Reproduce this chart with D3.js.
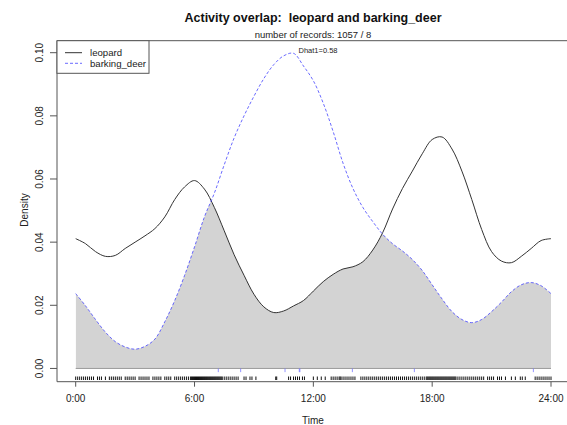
<!DOCTYPE html>
<html>
  <head>
    <meta charset="utf-8">
    <style>
      body { margin: 0; background-color: white; }
      svg { display: block; font-family: "Liberation Sans", Arial, sans-serif; }
    </style>
  </head>
  <body>
      <svg width="567" height="425"></svg>
      <script src="https://d3js.org/d3.v7.min.js"></script>
      <script>
      // density estimates, every half hour
      var hours = [0,0.5,1,1.5,2,2.5,3,3.5,4,4.5,5,5.5,6,6.5,7,7.5,8,8.5,9,9.5,10,10.5,11,11.5,
                   12,12.5,13,13.5,14,14.5,15,15.5,16,16.5,17,17.5,18,18.5,19,19.5,20,20.5,21,21.5,22,22.5,23,23.5,24];
      var leopard = [0.0411,0.0395,0.0370,0.0355,0.0358,0.0380,0.0400,0.0420,0.0443,0.0480,0.0535,0.0575,0.0595,0.0568,0.0510,0.0436,
                     0.0360,0.0295,0.0235,0.0195,0.0177,0.0182,0.0198,0.0215,0.0245,0.0275,0.0298,0.0315,0.0322,0.0338,0.0375,0.0430,
                     0.0505,0.0570,0.0625,0.0680,0.0725,0.0733,0.0695,0.0625,0.0535,0.0440,0.0370,0.0340,0.0335,0.0355,0.0380,0.0405,0.0411];
      var deer = [0.0237,0.0198,0.0155,0.0115,0.0085,0.0068,0.0061,0.0070,0.0093,0.0148,0.0215,0.0295,0.0385,0.0480,0.0555,0.0645,
                  0.0730,0.0800,0.0862,0.0918,0.0962,0.0990,0.0998,0.0958,0.0911,0.0840,0.0750,0.0650,0.0570,0.0510,0.0465,0.0425,
                  0.0395,0.0372,0.0345,0.0310,0.0265,0.0220,0.0180,0.0155,0.0145,0.0155,0.0180,0.0210,0.0243,0.0265,0.0272,0.0262,0.0237];

      // rug: record times (hours)
      var leopardRug = [0.0,0.1,0.2,0.3,0.4,0.5,0.6,0.7,0.8,0.9,1.1,1.2,1.3,1.5,1.7,1.8,1.9,2.0,2.1,2.2,2.3,2.5,2.6,2.7,2.8,2.9,3.0,
        3.2,3.3,3.4,3.5,3.6,3.7,3.9,4.0,4.1,4.2,4.3,4.5,4.6,4.7,4.8,5.0,5.1,5.2,5.3,5.4,5.5,5.6,5.7,5.8,5.85,5.9,5.95,6.0,6.05,
        6.1,6.15,6.2,6.25,6.3,6.35,6.4,6.45,6.5,6.55,6.6,6.65,6.7,6.75,6.8,6.85,6.9,6.95,7.0,7.05,7.1,7.15,7.2,7.25,7.3,7.35,7.4,
        7.5,7.6,7.7,7.8,7.9,8.0,8.1,8.2,8.5,8.6,8.8,8.9,9.1,10.1,10.15,10.75,10.85,11.0,11.1,11.2,11.3,11.45,11.55,12.0,12.2,12.4,
        12.6,12.9,13.0,13.1,13.2,13.3,13.35,13.4,13.5,13.6,13.7,13.8,13.9,14.0,14.1,14.4,14.5,14.6,14.7,14.8,14.9,15.0,15.1,15.2,
        15.3,15.4,15.5,15.6,15.7,15.8,15.9,16.0,16.1,16.2,16.3,16.4,16.5,16.6,16.7,16.8,16.9,17.0,17.1,17.2,17.3,17.4,17.5,17.6,
        17.7,17.75,17.8,17.85,17.9,17.95,18.0,18.05,18.1,18.15,18.2,18.25,18.3,18.35,18.4,18.45,18.5,18.55,18.6,18.65,18.7,18.75,
        18.8,18.85,18.9,18.95,19.0,19.05,19.1,19.15,19.2,19.3,19.4,19.5,19.6,19.7,19.8,19.9,20.0,20.1,20.2,20.3,20.4,20.5,20.6,
        20.8,20.9,21.0,21.1,21.3,21.4,21.5,21.7,22.0,22.2,22.45,22.55,22.7,23.2,23.3,23.4,23.5,23.6,23.7,23.8,23.9,24.0];
      var deerRug = [7.2, 8.33, 10.57, 11.29, 11.32, 13.97, 17.1, 23.11];

      var xTicks = [0, 6, 12, 18, 24];
      var xTickLabels = ["0:00", "6:00", "12:00", "18:00", "24:00"];
      var yTicks = [0, 0.02, 0.04, 0.06, 0.08, 0.10];
      var legendNames = ["leopard", "barking_deer"];

      var svg = d3.select("svg"),
          box = {left: 57, top: 40.7, right: 570, bottom: 381.7};

      var x = d3.scaleLinear().domain([0, 24]).range([75.7, 551]);
      var y = d3.scaleLinear().domain([-0.0042, 0.1038]).range([box.bottom, box.top]);

      var leopardData = hours.map(function(h, i) { return {h: h, v: leopard[i]}; });
      var deerData = hours.map(function(h, i) { return {h: h, v: deer[i]}; });

      var line = d3.line().x(function(d) { return x(d.h); }).y(function(d) { return y(d.v); }).curve(d3.curveCatmullRom);
      var area = d3.area().x(function(d) { return x(d.h); }).y0(y(0)).y1(function(d) { return y(d.v); }).curve(d3.curveCatmullRom);

      // overlap = area under leopard clipped by area under deer
      svg.append("clipPath").attr("id", "deerclip")
        .append("path").attr("d", area(deerData));
      svg.append("path")
          .attr("d", area(leopardData))
          .attr("clip-path", "url(#deerclip)")
          .style("fill", "#d3d3d3");

      svg.append("line")
          .attr("x1", x(0)).attr("x2", x(24))
          .attr("y1", y(0)).attr("y2", y(0))
          .style("stroke", "#999").style("stroke-width", 1);

      svg.append("path").attr("d", line(leopardData))
          .style("fill", "none").style("stroke", "#333").style("stroke-width", 1);
      svg.append("path").attr("d", line(deerData))
          .style("fill", "none").style("stroke", "#4444ff").style("stroke-width", 0.8)
          .style("stroke-dasharray", "3,2");

      // rugs
      svg.selectAll(".rugL").data(leopardRug).enter().append("line")
          .attr("x1", function(d) { return x(d); }).attr("x2", function(d) { return x(d); })
          .attr("y1", 376.5).attr("y2", 380)
          .style("stroke", "#111").style("stroke-width", 1);
      svg.selectAll(".rugD").data(deerRug).enter().append("line")
          .attr("x1", function(d) { return x(d); }).attr("x2", function(d) { return x(d); })
          .attr("y1", y(0)).attr("y2", y(0) + 3.7)
          .style("stroke", "#7777ff").style("stroke-width", 0.8);

      // box
      svg.append("path")
          .attr("d", "M" + box.right + "," + box.top + "H" + box.left + "V" + box.bottom + "H" + box.right)
          .style("fill", "none").style("stroke", "#555").style("stroke-width", 1);

      // x axis
      svg.selectAll(".xt").data(xTicks).enter().append("line")
          .attr("x1", function(d) { return x(d); }).attr("x2", function(d) { return x(d); })
          .attr("y1", box.bottom).attr("y2", box.bottom + 5)
          .style("stroke", "#555");
      svg.selectAll(".xl").data(xTicks).enter().append("text")
          .attr("x", function(d) { return x(d); }).attr("y", 402)
          .attr("text-anchor", "middle").style("font-size", "10px").style("fill", "#222")
          .text(function(d, i) { return xTickLabels[i]; });

      // y axis
      svg.selectAll(".yt").data(yTicks).enter().append("line")
          .attr("x1", box.left - 7).attr("x2", box.left)
          .attr("y1", function(d) { return y(d); }).attr("y2", function(d) { return y(d); })
          .style("stroke", "#555");
      svg.selectAll(".yl").data(yTicks).enter().append("text")
          .attr("transform", function(d) { return "translate(43," + y(d) + ") rotate(-90)"; })
          .attr("text-anchor", "middle").style("font-size", "10px").style("fill", "#222")
          .text(function(d) { return d3.format(".2f")(d); });

      svg.append("text")
          .attr("transform", "translate(28,210) rotate(-90)")
          .attr("text-anchor", "middle").style("font-size", "10px").style("fill", "#222")
          .text("Density");
      svg.append("text")
          .attr("x", 313).attr("y", 424)
          .attr("text-anchor", "middle").style("font-size", "10px").style("fill", "#222")
          .text("Time");

      // titles
      svg.append("text")
          .attr("x", 313).attr("y", 22)
          .attr("text-anchor", "middle").style("font-size", "12.5px").style("font-weight", "bold").style("fill", "#111")
          .style("white-space", "pre")
          .text("Activity overlap:  leopard and barking_deer");
      svg.append("text")
          .attr("x", 313).attr("y", 38)
          .attr("text-anchor", "middle").style("font-size", "9.5px").style("fill", "#222")
          .text("number of records: 1057 / 8");
      svg.append("text")
          .attr("x", 318).attr("y", 52.5)
          .attr("text-anchor", "middle").style("font-size", "7.5px").style("fill", "#222")
          .text("Dhat1=0.58");

      // legend
      var lg = svg.append("g");
      lg.append("rect")
          .attr("x", box.left).attr("y", box.top).attr("width", 92).attr("height", 32.6)
          .style("fill", "white").style("stroke", "#555");
      lg.selectAll(".ll").data(legendNames).enter().append("line")
          .attr("x1", 65).attr("x2", 82)
          .attr("y1", function(d, i) { return 52.7 + i * 10.6; }).attr("y2", function(d, i) { return 52.7 + i * 10.6; })
          .style("stroke", function(d, i) { return i ? "#4444ff" : "#333"; })
          .style("stroke-width", function(d, i) { return i ? 0.8 : 1; })
          .style("stroke-dasharray", function(d, i) { return i ? "3,2" : null; });
      lg.selectAll(".lt").data(legendNames).enter().append("text")
          .attr("x", 90).attr("y", function(d, i) { return 56.2 + i * 10.6; })
          .style("font-size", "9.6px").style("fill", "#222")
          .text(function(d) { return d; });
      </script>
    </body>
</html>
